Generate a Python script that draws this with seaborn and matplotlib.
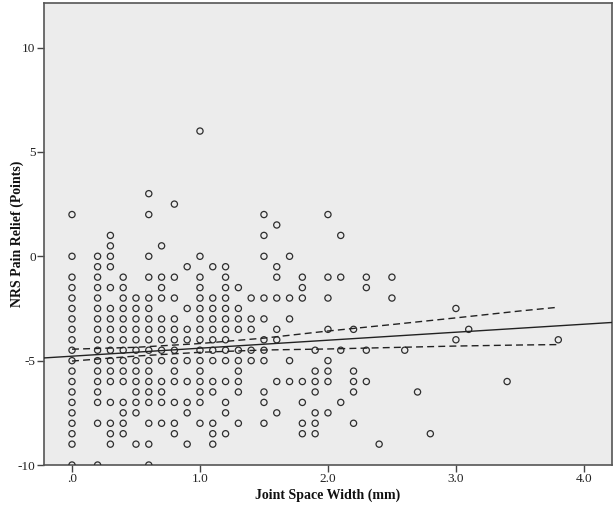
import numpy as np
import pandas as pd
import matplotlib
matplotlib.use("Agg")
import matplotlib.pyplot as plt
import seaborn as sns

# ---- data (x = joint space width, grouped by NRS level) ----
nrs_levels = [6.0, 3.0, 2.5, 2.0, 1.5, 1.0, 0.5, 0.0, -0.5, -1.0, -1.5, -2.0,
              -2.5, -3.0, -3.5, -4.0, -4.5, -5.0, -5.5, -6.0, -6.5, -7.0,
              -7.5, -8.0, -8.5, -9.0, -10.0]
jsw_at_level = [
    [1.0],
    [0.6],
    [0.8],
    [0, 0.6, 1.5, 2.0],
    [1.6],
    [0.3, 1.5, 2.1],
    [0.3, 0.7],
    [0, 0.2, 0.3, 0.6, 1.0, 1.5, 1.7],
    [0.2, 0.3, 0.9, 1.1, 1.2, 1.6],
    [0, 0.2, 0.4, 0.6, 0.7, 0.8, 1.0, 1.2, 1.6, 1.8, 2.0, 2.1, 2.3, 2.5],
    [0, 0.2, 0.3, 0.4, 0.7, 1.0, 1.2, 1.3, 1.8, 2.3],
    [0, 0.2, 0.4, 0.5, 0.6, 0.7, 0.8, 1.0, 1.1, 1.2, 1.4, 1.5, 1.6, 1.7, 1.8, 2.0, 2.5],
    [0, 0.2, 0.3, 0.4, 0.5, 0.6, 0.9, 1.0, 1.1, 1.2, 1.3, 3.0],
    [0, 0.2, 0.3, 0.4, 0.5, 0.6, 0.7, 0.8, 1.0, 1.1, 1.2, 1.3, 1.4, 1.5, 1.7],
    [0, 0.2, 0.3, 0.4, 0.5, 0.6, 0.7, 0.8, 0.9, 1.0, 1.1, 1.2, 1.3, 1.4, 1.6, 2.0, 2.2, 3.1],
    [0, 0.2, 0.3, 0.4, 0.5, 0.6, 0.7, 0.8, 0.9, 1.0, 1.1, 1.2, 1.5, 1.6, 3.0, 3.8],
    [0, 0.2, 0.3, 0.4, 0.5, 0.6, 0.7, 0.8, 1.0, 1.1, 1.2, 1.3, 1.4, 1.5, 1.9, 2.1, 2.3, 2.6],
    [0, 0.2, 0.3, 0.4, 0.5, 0.6, 0.7, 0.8, 0.9, 1.0, 1.1, 1.2, 1.3, 1.4, 1.5, 1.7, 2.0],
    [0, 0.2, 0.3, 0.4, 0.5, 0.6, 0.8, 1.0, 1.3, 1.9, 2.0, 2.2],
    [0, 0.2, 0.3, 0.4, 0.5, 0.6, 0.7, 0.8, 0.9, 1.0, 1.1, 1.2, 1.3, 1.6, 1.7, 1.8, 1.9, 2.0, 2.2, 2.3, 3.4],
    [0, 0.2, 0.5, 0.6, 0.7, 1.0, 1.1, 1.3, 1.5, 1.9, 2.2, 2.7],
    [0, 0.2, 0.3, 0.4, 0.5, 0.6, 0.7, 0.8, 0.9, 1.0, 1.2, 1.5, 1.8, 2.1],
    [0, 0.4, 0.5, 0.9, 1.2, 1.6, 1.9, 2.0],
    [0, 0.2, 0.3, 0.4, 0.6, 0.7, 0.8, 1.0, 1.1, 1.3, 1.5, 1.8, 1.9, 2.2],
    [0, 0.3, 0.4, 0.8, 1.1, 1.2, 1.8, 1.9, 2.8],
    [0, 0.3, 0.5, 0.6, 0.9, 1.1, 2.4],
    [0, 0.2, 0.6],
]

# fit line and 95% CI curves
fit_x = [-0.22, 4.22]
fit_y = [-4.87, -3.17]
ci_x = [0.0, 0.5, 1.0, 1.5, 2.0, 2.5, 3.0, 3.5, 3.8]
ci_upper = [-4.45, -4.36, -4.18, -3.92, -3.58, -3.27, -2.95, -2.62, -2.44]
ci_lower = [-5.02, -4.78, -4.60, -4.49, -4.44, -4.37, -4.30, -4.25, -4.23]

x_ticks = [0, 1, 2, 3, 4]
x_tick_labels = [".0", "1.0", "2.0", "3.0", "4.0"]
y_ticks = [-10, -5, 0, 5, 10]
y_tick_labels = ["-10", "-5", "0", "5", "10"]

rows = []
for lvl, xs in zip(nrs_levels, jsw_at_level):
    for xv in xs:
        rows.append((xv, lvl))
df = pd.DataFrame(rows, columns=["Joint Space Width (mm)", "NRS Pain Relief (Points)"])

sns.set_style("ticks")
plt.rcParams["font.family"] = ["Liberation Serif", "DejaVu Serif"]

fig = plt.figure(figsize=(6.15, 5.08), dpi=100)
ax = fig.add_axes([0.0715, 0.0846, 0.9235, 0.9101])
ax.set_facecolor("#ececec")

sns.scatterplot(data=df, x="Joint Space Width (mm)", y="NRS Pain Relief (Points)",
                ax=ax, marker="o", s=20, facecolors="none", edgecolor="#2e2e2e",
                linewidth=0.9, zorder=3, clip_on=True)

ax.plot(fit_x, fit_y, color="#222222", lw=1.0, zorder=4)
ax.plot(ci_x, ci_upper, color="#222222", lw=1.0, ls=(0, (5, 3)), zorder=4)
ax.plot(ci_x, ci_lower, color="#222222", lw=1.0, ls=(0, (5, 3)), zorder=4)

ax.set_xlim(-0.219, 4.219)
ax.set_ylim(-10, 12.15)
ax.set_xticks(x_ticks)
ax.set_xticklabels(x_tick_labels)
ax.set_yticks(y_ticks)
ax.set_yticklabels(y_tick_labels)
ax.tick_params(axis="both", direction="out", length=5, width=1.0, color="#444444",
               labelsize=9.5, labelcolor="#222222", pad=1)

for sp in ax.spines.values():
    sp.set_visible(True)
    sp.set_color("#555555")
    sp.set_linewidth(1.2)

ax.set_xlabel("Joint Space Width (mm)", fontsize=10, fontweight="bold", color="#111111", labelpad=2)
ax.set_ylabel("NRS Pain Relief (Points)", fontsize=10, fontweight="bold", color="#111111")
ax.yaxis.set_label_coords(-0.036, 0.5)

fig.savefig("out.png", dpi=100, facecolor="white")
